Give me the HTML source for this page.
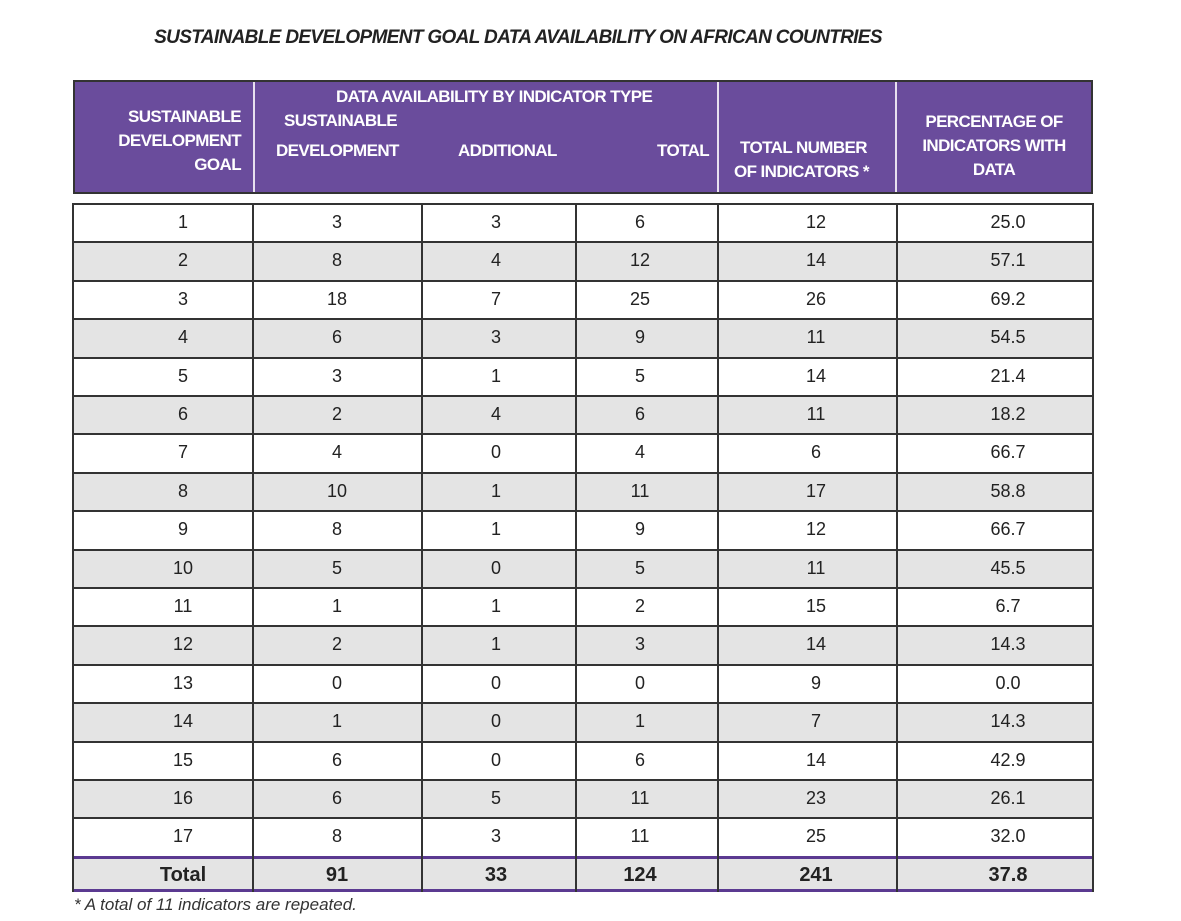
<!DOCTYPE html>
<html><head><meta charset="utf-8"><style>
body{margin:0;width:1181px;height:921px;background:#fff;position:relative;overflow:hidden;font-family:"Liberation Sans",sans-serif;}
.a{position:absolute;}
.h{position:absolute;color:#fff;font-weight:bold;font-size:17px;letter-spacing:-0.6px;white-space:nowrap;}
.c{position:absolute;font-size:18px;color:#222;text-align:center;width:120px;}
</style></head><body>
<div class="a" style="left:0;width:1036px;top:27px;text-align:center;font-size:19px;font-weight:bold;font-style:italic;color:#222;letter-spacing:-0.65px;">SUSTAINABLE DEVELOPMENT GOAL DATA AVAILABILITY ON AFRICAN COUNTRIES</div>
<div class="a" style="left:73px;top:80px;width:1016px;height:110px;background:#6a4c9c;border:2px solid #333;"></div>
<div class="a" style="left:253px;top:82px;width:2px;height:110px;background:#e8e0f0;"></div>
<div class="a" style="left:717px;top:82px;width:2px;height:110px;background:#e8e0f0;"></div>
<div class="a" style="left:895px;top:82px;width:2px;height:110px;background:#e8e0f0;"></div>
<div class="h" style="right:940px;top:105px;text-align:right;line-height:24px;">SUSTAINABLE<br>DEVELOPMENT<br>GOAL</div>
<div class="h" style="left:336px;top:87px;">DATA AVAILABILITY BY INDICATOR TYPE</div>
<div class="h" style="left:284px;top:111px;">SUSTAINABLE</div>
<div class="h" style="left:276px;top:141px;">DEVELOPMENT</div>
<div class="h" style="left:458px;top:141px;">ADDITIONAL</div>
<div class="h" style="left:657px;top:141px;">TOTAL</div>
<div class="h" style="left:734px;top:136px;line-height:24px;text-align:center;">&nbsp;TOTAL NUMBER<br>OF INDICATORS *</div>
<div class="h" style="left:897px;width:194px;top:110px;line-height:24px;text-align:center;">PERCENTAGE OF<br>INDICATORS WITH<br>DATA</div>
<div id="tbl"></div>
<div class="a" style="left:74px;top:895px;font-size:17px;font-style:italic;color:#333;">* A total of 11 indicators are repeated.</div>
<script>
const goals=["1","2","3","4","5","6","7","8","9","10","11","12","13","14","15","16","17"];
const sdVals=["3","8","18","6","3","2","4","10","8","5","1","2","0","1","6","6","8"];
const addVals=["3","4","7","3","1","4","0","1","1","0","1","1","0","0","0","5","3"];
const totVals=["6","12","25","9","5","6","4","11","9","5","2","3","0","1","6","11","11"];
const numVals=["12","14","26","11","14","11","6","17","12","11","15","14","9","7","14","23","25"];
const pctVals=["25.0","57.1","69.2","54.5","21.4","18.2","66.7","58.8","66.7","45.5","6.7","14.3","0.0","14.3","42.9","26.1","32.0"];
const totalRow=["Total","91","33","124","241","37.8"];
const colX=[73,253,422,576,718,897,1093];
const textX=[183,337,496,640,816,1008];
const top0=203,rh=38.4;
const t=document.getElementById('tbl');
function cell(x,y,w,h,bg){const d=document.createElement('div');d.className='a';d.style.cssText=`left:${x}px;top:${y}px;width:${w}px;height:${h}px;background:${bg};`;t.appendChild(d);return d;}
const cols=[goals,sdVals,addVals,totVals,numVals,pctVals];
for(let r=0;r<goals.length;r++){
 const y=top0+r*rh;
 const row=cell(73,y,1020,rh,r%2?'#e4e4e4':'#fff');
 
 
 row.style.borderTop='2px solid #333';row.style.boxSizing='border-box';
 for(let c=0;c<6;c++){
  const d=document.createElement('div');d.className='c';
  d.style.left=(textX[c]-60)+'px';d.style.top=(y+9)+'px';
  d.textContent=cols[c][r];
  
  
  t.appendChild(d);
 }
}
const tb=top0+goals.length*rh;
const tr=cell(73,tb,1020,36,'#e4e4e4');


tr.style.borderTop='3px solid #5b3a91';tr.style.borderBottom='3px solid #5b3a91';tr.style.boxSizing='border-box';
for(let c=0;c<6;c++){
 const d=document.createElement('div');d.className='c';
 d.style.left=(textX[c]-60)+'px';d.style.top=(tb+8)+'px';d.style.fontWeight='bold';d.style.fontSize='20px';
 d.textContent=totalRow[c];
 
 
 t.appendChild(d);
}
for(let i=0;i<colX.length;i++){
 const v=cell(colX[i]-1,top0,2,tb+36-top0,'#333');
 
 
}
</script>
</body></html>
